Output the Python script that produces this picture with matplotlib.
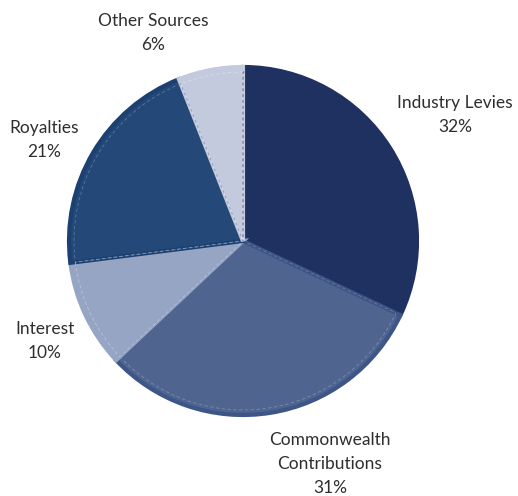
import matplotlib
matplotlib.use("Agg")
import matplotlib.pyplot as plt

categories = ["Industry Levies", "Commonwealth\nContributions", "Interest", "Royalties", "Other Sources"]
values = [32, 31, 10, 21, 6]
colors = ["#1f3160", "#4f6590", "#96a5c4", "#244878", "#c4cadd"]
edge_colors = ["#1f3160", "#3d5587", "#96a5c4", "#1c4070", "#c4cadd"]
dash_colors = ["#1f3160", "#8c9cc0", "#c8d0e2", "#6f8ab0", "#e2e6f0"]

W, H = 518, 496
fig = plt.figure(figsize=(W / 100, H / 100), dpi=100)
ax = fig.add_axes([0, 0, 1, 1])

cx, cy, r = 243, H - 241, 174

wedges, _ = ax.pie(values, colors=colors, startangle=90, counterclock=False,
                   center=(cx, cy), radius=r,
                   wedgeprops=dict(linewidth=0), frame=True)
for w, ec in zip(wedges, edge_colors):
    w.set_edgecolor(ec)
    w.set_linewidth(3)
    w.set_joinstyle("miter")

inner, _ = ax.pie(values, colors=["none"] * 5, startangle=90, counterclock=False,
                  center=(cx, cy), radius=r - 5,
                  wedgeprops=dict(linewidth=0.6, fill=False, linestyle=(0, (4, 3))),
                  frame=True)
for w, dc in zip(inner, dash_colors):
    w.set_edgecolor(dc)
    w.set_alpha(0.7)

ax.set_xlim(0, W)
ax.set_ylim(0, H)
ax.set_aspect("equal")
ax.axis("off")

labels = [f"{c}\n{v}%" for c, v in zip(categories, values)]
label_pos = [(455, 115), (330, 464), (45, 341), (44, 140), (153, 33)]
for lab, (x, y) in zip(labels, label_pos):
    ax.text(x, H - y, lab, ha="center", va="center", fontsize=12.5,
            family="Lato", color="#2e2e2e", linespacing=1.6)

fig.savefig("out.png", dpi=100)
